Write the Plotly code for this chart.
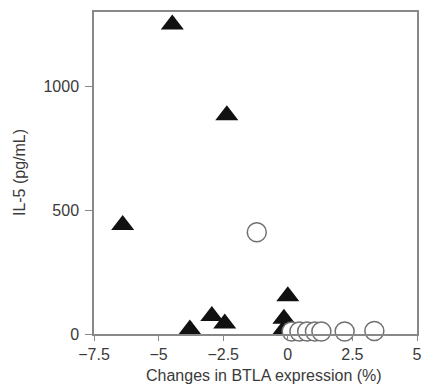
import plotly.graph_objects as go

# Filled triangles (one group)
tri_x = [-4.47, -2.36, -6.39, 0.0, -3.79, -2.94, -2.44, -0.15, -0.2]
tri_y = [1250, 883, 440, 152, 18, 73, 42, 62, 12]

# Open circles (other group)
circ_x = [-1.2, 0.15, 0.45, 0.75, 1.05, 1.3, 2.2, 3.35]
circ_y = [411, 10, 10, 10, 10, 10, 10, 12]

x_ticks = [-7.5, -5, -2.5, 0, 2.5, 5]
x_ticktext = ["\u22127.5", "\u22125", "\u22122.5", "0", "2.5", "5"]
y_ticks = [0, 500, 1000]
y_ticktext = ["0", "500", "1000"]

x_title = "Changes in BTLA expression (%)"
y_title = "IL-5 (pg/mL)"

axis_col = "#888888"
font_col = "#3a3a3a"

fig = go.Figure()
fig.add_trace(go.Scatter(
    x=tri_x, y=tri_y, mode="markers", cliponaxis=False,
    marker=dict(symbol="triangle-up", size=20, color="#111111",
                line=dict(width=0)),
    showlegend=False))
fig.add_trace(go.Scatter(
    x=circ_x, y=circ_y, mode="markers", cliponaxis=False,
    marker=dict(symbol="circle", size=19, color="white",
                line=dict(width=1.5, color="#707070")),
    showlegend=False))

fig.update_layout(
    width=422, height=386,
    margin=dict(l=94, r=5, t=12, b=52),
    paper_bgcolor="white", plot_bgcolor="white",
    font=dict(family="Liberation Sans, Arial, sans-serif", size=16, color=font_col),
    xaxis=dict(range=[-7.5, 5], tickvals=x_ticks, ticktext=x_ticktext,
               showgrid=False, zeroline=False, showline=True, mirror=True,
               linecolor=axis_col, linewidth=1.5, ticks="outside", ticklen=5,
               tickcolor=axis_col, tickwidth=1.2, automargin=False),
    yaxis=dict(range=[0, 1300], tickvals=y_ticks, ticktext=y_ticktext,
               showgrid=False, zeroline=False, showline=True, mirror=True,
               linecolor=axis_col, linewidth=1.5, ticks="outside", ticklen=7,
               tickcolor=axis_col, tickwidth=1.2, ticklabelstandoff=3,
               automargin=False),
    annotations=[
        dict(text=x_title, xref="paper", yref="paper", x=0.526, y=-0.13,
             xanchor="center", yanchor="middle", showarrow=False,
             font=dict(size=16, color=font_col)),
        dict(text=y_title, xref="paper", yref="paper", x=-0.232, y=0.5,
             xanchor="center", yanchor="middle", textangle=-90, showarrow=False,
             font=dict(size=16, color=font_col)),
    ],
)

# remove the browser's default 8px body margin so the figure fills the window
fig.write_html("out.html",
               config={"displayModeBar": False},
               post_script="document.body.style.margin='0';document.body.style.overflow='hidden';")
